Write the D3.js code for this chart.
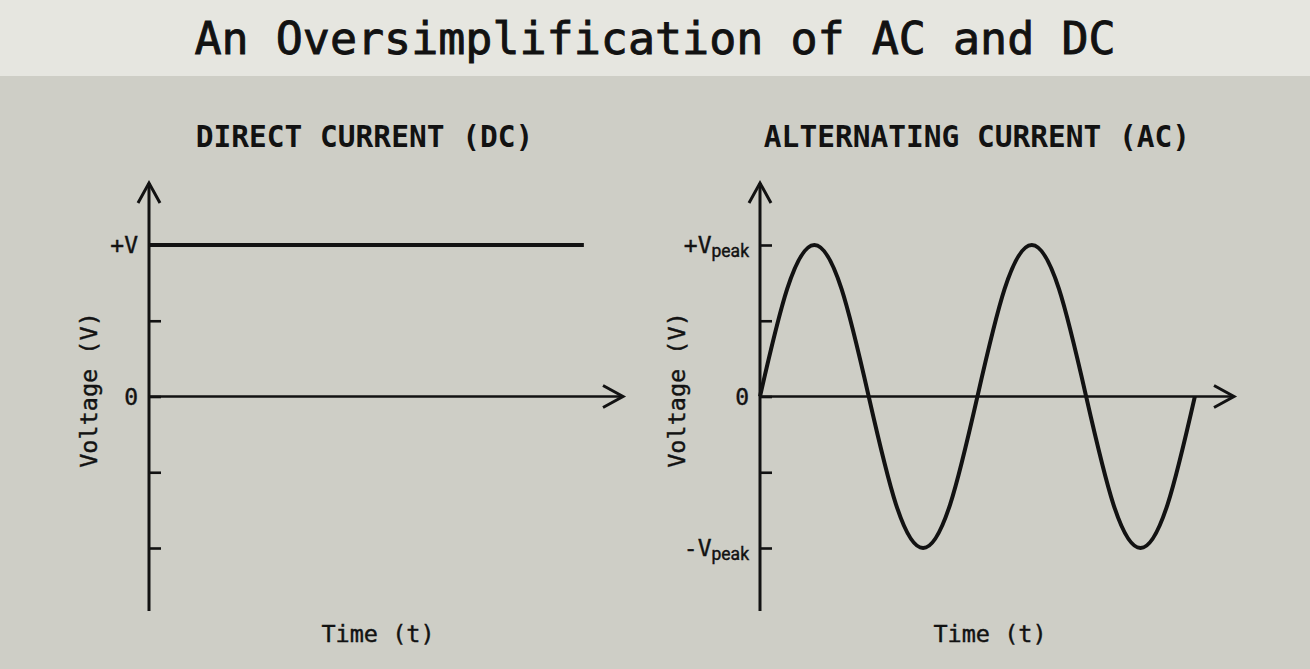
<!DOCTYPE html>
<html>
<head>
<meta charset="utf-8">
<script src="https://cdn.jsdelivr.net/npm/d3@7"></script>
<style>
  html, body { margin: 0; padding: 0; background: #cecec6; }
  svg { display: block; }
  text { fill: #121212; }
</style>
</head>
<body>
<div id="chart"></div>
<script>
// ---- data ----
const chartTitle = "An Oversimplification of AC and DC";
const panelTitles = ["DIRECT CURRENT (DC)", "ALTERNATING CURRENT (AC)"];
const yTickValues = [-1, -0.5, 0, 0.5, 1];

// DC: constant +V, time in periods
const dcTime = [0, 2];
const dcVoltage = [1, 1];

// AC: two full cycles, read every 1/8 period
const acTime = [0, 0.125, 0.25, 0.375, 0.5, 0.625, 0.75, 0.875, 1,
                1.125, 1.25, 1.375, 1.5, 1.625, 1.75, 1.875, 2];
const acVoltage = [0, 0.71, 1, 0.71, 0, -0.71, -1, -0.71, 0,
                   0.71, 1, 0.71, 0, -0.71, -1, -0.71, 0];

// tick labels: [value, main text, subscript]
const dcTickLabels = [[1, "+V", ""], [0, "0", ""]];
const acTickLabels = [[1, "+V", "peak"], [0, "0", ""], [-1, "-V", "peak"]];

const yLabel = "Voltage (V)";
const xLabel = "Time (t)";

// ---- layout ----
const width = 1310, height = 669;
const mono = "'DejaVu Sans Mono', 'Liberation Mono', monospace";

const svg = d3.select("#chart").append("svg")
  .attr("width", width)
  .attr("height", height);

svg.append("rect").attr("width", width).attr("height", height).attr("fill", "#cecec6");
svg.append("rect").attr("width", width).attr("height", 76).attr("fill", "#e6e6e0");

svg.append("text")
  .attr("x", 655)
  .attr("y", 54)
  .attr("text-anchor", "middle")
  .style("font-family", mono)
  .style("font-size", "45px")
  .style("stroke", "#121212")
  .style("stroke-width", 0.9)
  .text(chartTitle);

function drawPanel(cfg) {
  const g = svg.append("g").attr("transform", `translate(${cfg.left},0)`);

  const x = d3.scaleLinear().domain([0, 2.18]).range([0, 474]);
  const y = d3.scaleLinear().domain([-1, 1]).range([548, 245]);

  // header
  g.append("text")
    .attr("x", cfg.titleX)
    .attr("y", 147)
    .attr("text-anchor", "middle")
    .style("font-family", mono)
    .style("font-size", "29.5px")
    .style("font-weight", "bold")
    .text(cfg.title);

  // ticks via d3 axis (no labels, no domain)
  const axis = g.append("g")
    .call(d3.axisRight(y).tickValues(yTickValues).tickSize(12).tickFormat(""));
  axis.select(".domain").remove();
  axis.selectAll(".tick line").attr("stroke", "#121212").attr("stroke-width", 2.6);

  // y axis with arrow
  g.append("line")
    .attr("x1", 0).attr("x2", 0)
    .attr("y1", 611).attr("y2", 183)
    .attr("stroke", "#121212").attr("stroke-width", 3);
  g.append("path")
    .attr("d", "M-11,203 L0,183 L11,203")
    .attr("fill", "none").attr("stroke", "#121212")
    .attr("stroke-width", 3).attr("stroke-linejoin", "miter");

  // x axis with arrow
  const x0 = y(0);
  g.append("line")
    .attr("x1", 0).attr("x2", 474)
    .attr("y1", x0).attr("y2", x0)
    .attr("stroke", "#121212").attr("stroke-width", 2.6);
  g.append("path")
    .attr("d", `M454,${x0 - 11} L474,${x0} L454,${x0 + 11}`)
    .attr("fill", "none").attr("stroke", "#121212")
    .attr("stroke-width", 3).attr("stroke-linejoin", "miter");

  // signal
  const line = d3.line()
    .x((d, i) => x(cfg.time[i]))
    .y(d => y(d))
    .curve(cfg.curve);
  g.append("path")
    .datum(cfg.voltage)
    .attr("d", line)
    .attr("fill", "none")
    .attr("stroke", "#121212")
    .attr("stroke-width", 4)
    .attr("stroke-linecap", "butt");

  // tick labels
  cfg.tickLabels.forEach(([v, main, sub]) => {
    const t = g.append("text")
      .attr("x", -11)
      .attr("y", y(v) + 8)
      .attr("text-anchor", "end")
      .style("font-family", mono)
      .style("font-size", "23px")
      .style("stroke", "#121212")
      .style("stroke-width", 0.4);
    t.append("tspan").text(main);
    if (sub) {
      t.append("tspan")
        .attr("dy", 4)
        .style("font-family", "Roboto, 'Noto Sans', sans-serif")
        .style("font-size", "17.5px")
        .text(sub);
    }
  });

  // axis titles
  g.append("text")
    .attr("transform", `translate(${cfg.yLabelX},390) rotate(-90)`)
    .attr("text-anchor", "middle")
    .style("font-family", mono)
    .style("font-size", "23.5px")
    .style("stroke", "#121212")
    .style("stroke-width", 0.4)
    .text(yLabel);

  g.append("text")
    .attr("x", cfg.xLabelX)
    .attr("y", 642)
    .attr("text-anchor", "middle")
    .style("font-family", mono)
    .style("font-size", "23.5px")
    .style("stroke", "#121212")
    .style("stroke-width", 0.4)
    .text(xLabel);
}

drawPanel({
  left: 149, title: panelTitles[0], titleX: 215.5,
  time: dcTime, voltage: dcVoltage, curve: d3.curveLinear,
  tickLabels: dcTickLabels, yLabelX: -52, xLabelX: 229
});

drawPanel({
  left: 760, title: panelTitles[1], titleX: 217,
  time: acTime, voltage: acVoltage, curve: d3.curveNatural,
  tickLabels: acTickLabels, yLabelX: -75, xLabelX: 230
});
</script>
</body>
</html>
